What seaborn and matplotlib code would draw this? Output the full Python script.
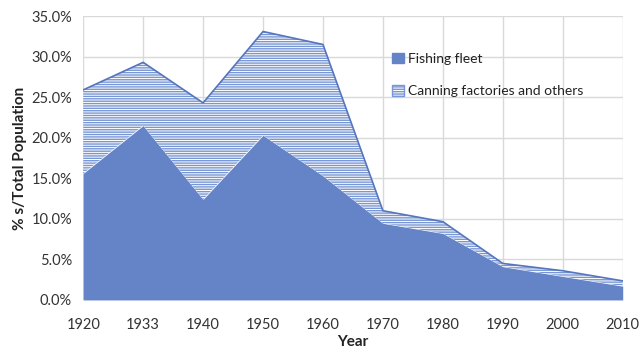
import matplotlib
matplotlib.use("Agg")
import matplotlib.pyplot as plt
import seaborn as sns
import numpy as np
from matplotlib.ticker import PercentFormatter
from matplotlib.patches import Patch

years = ["1920", "1933", "1940", "1950", "1960", "1970", "1980", "1990", "2000", "2010"]
fishing_fleet = [15.6, 21.5, 12.4, 20.3, 15.3, 9.45, 8.2, 4.1, 2.9, 1.7]
total = [25.9, 29.3, 24.3, 33.1, 31.5, 11.0, 9.65, 4.5, 3.6, 2.35]
canning = [t - f for t, f in zip(total, fishing_fleet)]
labels = ["Fishing fleet", "Canning factories and others"]

sns.set_theme(style="whitegrid")
plt.rcParams['font.family'] = ['Lato', 'DejaVu Sans']
plt.rcParams['hatch.linewidth'] = 1.0

fill_col = '#6584C7'
edge_col = '#5575BD'
hatch_col = '#7896D4'

fig, ax = plt.subplots(figsize=(6.4, 3.5), dpi=100)
fig.subplots_adjust(left=0.13, right=0.973, top=0.954, bottom=0.143)

x = np.arange(len(years))
polys = ax.stackplot(x, fishing_fleet, canning, colors=[fill_col, 'white'], linewidth=0)
polys[1].set_hatch('-------')
polys[1].set_edgecolor(hatch_col)
sns.lineplot(x=x, y=total, ax=ax, color=edge_col, linewidth=1.2)

ax.set_xlim(0, len(years) - 1)
ax.set_ylim(0, 35)
ax.set_xticks(x)
ax.set_xticklabels(years)
ax.set_yticks(np.arange(0, 36, 5))
ax.yaxis.set_major_formatter(PercentFormatter(decimals=1))
ax.grid(True, color='#D9D9D9', linewidth=1)
ax.set_axisbelow(True)
for s in ax.spines.values():
    s.set_visible(False)
ax.tick_params(axis='both', labelsize=10.5, length=0)
ax.tick_params(axis='y', pad=8)
ax.tick_params(axis='x', pad=13)
for t in ax.get_xticklabels() + ax.get_yticklabels():
    t.set_color('#333333')

ax.set_xlabel("Year", fontsize=11, fontweight='bold', color='#222222', labelpad=2)
ax.set_ylabel("% s/Total Population", fontsize=11, fontweight='bold', color='#222222', labelpad=3)

handles = [Patch(facecolor=fill_col, edgecolor=fill_col),
           Patch(facecolor='white', edgecolor=hatch_col, hatch='-------')]
leg = ax.legend(handles, labels, loc='upper left', bbox_to_anchor=(0.55, 0.915),
                frameon=False, fontsize=10, handlelength=0.8, handleheight=0.8,
                handletextpad=0.3, labelspacing=1.45)
for t in leg.get_texts():
    t.set_color('#222222')

fig.savefig("out.png", dpi=100)
